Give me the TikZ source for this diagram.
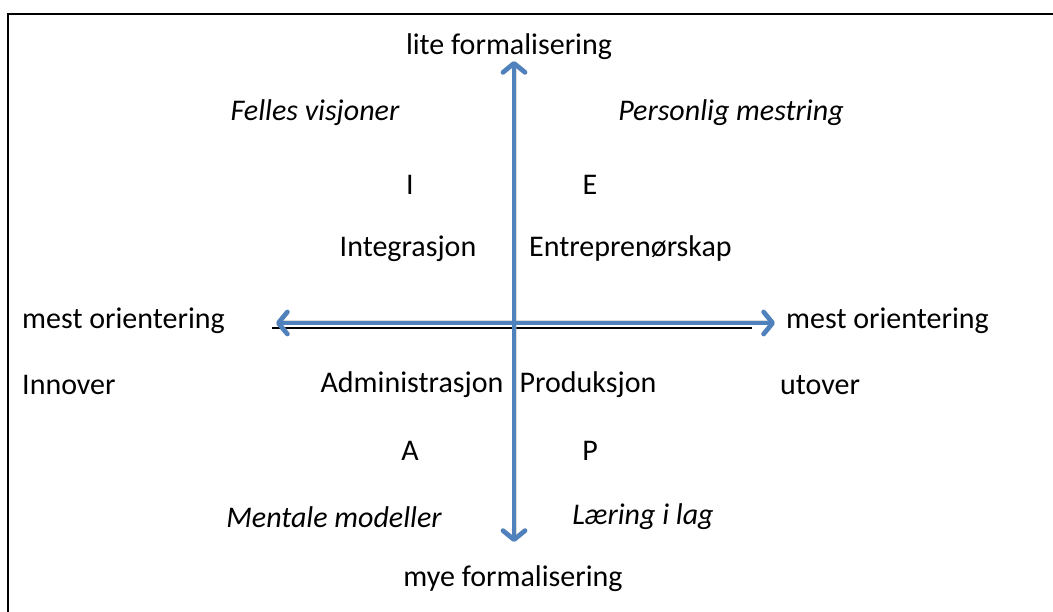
\documentclass[tikz,border=0pt]{standalone}
\usepackage{fontspec}
\setmainfont{Carlito}
\usetikzlibrary{arrows.meta}
\definecolor{axisblue}{RGB}{79,129,189}
\tikzset{
  lbl/.style={font=\fontsize{30}{36}\selectfont, inner sep=0pt},
  lblit/.style={lbl, font=\fontsize{30}{36}\selectfont\itshape},
  barbs/.style={arrows={Straight Barb[length=9pt,width=22pt,line cap=round,round]-Straight Barb[length=9pt,width=22pt,line cap=round,round]}},
  axis/.style={draw=axisblue, line width=4.6pt, line cap=round, barbs},
  axisshadow/.style={draw=black!30, line width=5pt, line cap=round, opacity=0.45, barbs},
  frame/.style={draw=black, line width=2.4pt}
}
\begin{document}
\begin{tikzpicture}[x=1pt,y=-1pt]
\useasboundingbox (0,0) rectangle (1053,612);
% outer frame (only top and left edges fall inside the page)
\coordinate (fbl) at (8,640);
\coordinate (ftl) at (8,14);
\coordinate (ftr) at (1080,14);
\draw[frame] (fbl) -- (ftl) -- (ftr);

% axis end points
\coordinate (top) at (514,61);
\coordinate (bot) at (514,542);
\coordinate (lft) at (276,323);
\coordinate (rgt) at (775,323);
\coordinate (bl1) at (272,328);
\coordinate (bl2) at (752,328);

% thin black rule under the horizontal axis
\draw[black, line width=1.6pt] (bl1) -- (bl2);

% soft shadows
\begin{scope}[shift={(2,3)}]
  \draw[axisshadow] (top) -- (bot);
  \draw[axisshadow] (lft) -- (rgt);
\end{scope}

% axes
\draw[axis] (lft) -- (rgt);
\draw[axis] (top) -- (bot);

% labels
\node[lbl, anchor=base] (nTop) at (509,55) {lite formalisering};
\node[lbl, anchor=base] (nBot) at (513,586) {mye formalisering};
\node[lblit] (nFV) at (315,113) {Felles visjoner};
\node[lblit] (nPM) at (731,113) {Personlig mestring};
\node[lbl] (nI) at (410,185) {I};
\node[lbl] (nE) at (590,185) {E};
\node[lbl] (nInt) at (408,249) {Integrasjon};
\node[lbl, anchor=west] (nEnt) at (529,249) {Entreprenørskap};
\node[lbl, anchor=west] (nMoL) at (22,321) {mest orientering};
\node[lbl, anchor=west] (nMoR) at (786,321) {mest orientering};
\node[lbl, anchor=west] (nInn) at (22,385) {Innover};
\node[lbl] (nAdm) at (412,385) {Administrasjon};
\node[lbl] (nPro) at (588,385) {Produksjon};
\node[lbl, anchor=west] (nUt) at (780,385) {utover};
\node[lbl] (nA) at (410,451) {A};
\node[lbl] (nP) at (590,451) {P};
\node[lblit] (nMM) at (334,517) {Mentale modeller};
\node[lblit] (nLL) at (643,517) {Læring i lag};
\end{tikzpicture}
\end{document}
